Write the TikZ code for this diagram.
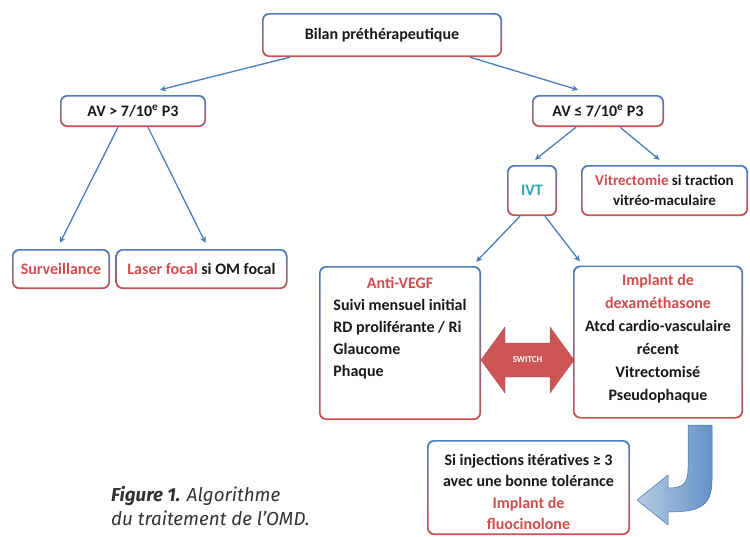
\documentclass[tikz,border=0pt]{standalone}
\usepackage{fontspec}
\setmainfont{Carlito}
\newfontfamily\capfont{Fira Sans}
\usetikzlibrary{arrows.meta,calc}
\definecolor{bblue}{RGB}{74,126,187}
\definecolor{bred}{RGB}{198,82,80}
\definecolor{tred}{RGB}{205,78,78}
\definecolor{tteal}{RGB}{50,160,185}
\definecolor{lblue}{RGB}{74,126,187}
\definecolor{swred}{RGB}{205,85,85}
\tikzset{
  gbox/.style={rounded corners=7pt, top color=bblue, bottom color=bred, inner sep=0pt,
    font=\fontsize{16pt}{19pt}\selectfont\bfseries, text=black!90, align=center,
    path picture={\fill[white, rounded corners=6pt]
      ([shift={(1.7pt,-1.7pt)}]path picture bounding box.north west) rectangle
      ([shift={(-1.7pt,1.7pt)}]path picture bounding box.south east);}},
  txt/.style={font=\fontsize{16pt}{19pt}\selectfont\bfseries, text=black!90, inner sep=0pt},
  conn/.style={draw=lblue, line width=1.3pt, -{Stealth[length=6pt,width=6pt]}}
}
\begin{document}
\begin{tikzpicture}[x=1pt,y=-1pt]
\useasboundingbox (0,0) rectangle (750,536);
% boxes
\node[gbox, minimum width=240pt, minimum height=44pt] (bilan) at (382,35) {Bilan préthérapeutique};
\node[gbox, minimum width=146pt, minimum height=32pt] (avg) at (133,111) {AV > 7/10\textsuperscript{e} P3};
\node[gbox, minimum width=132pt, minimum height=32pt] (avl) at (598,111) {AV ≤ 7/10\textsuperscript{e} P3};
\node[gbox, minimum width=50pt, minimum height=51pt, text=tteal] (ivt) at (532,190.5) {IVT};
\node[gbox, minimum width=167pt, minimum height=51pt, font=\fontsize{15pt}{19.5pt}\selectfont\bfseries] (vit) at (664.5,190.5) {\textcolor{tred}{Vitrectomie} si traction\\vitréo-maculaire};
\node[gbox, minimum width=98pt, minimum height=40pt, text=tred] (surv) at (61,269) {Surveillance};
\node[gbox, minimum width=172pt, minimum height=40pt] (laser) at (201.5,269) {\textcolor{tred}{Laser focal} si OM focal};
\node[gbox, minimum width=162pt, minimum height=154pt] (anti) at (400,343) {};
\node[gbox, minimum width=170pt, minimum height=153pt] (dexa) at (658,342) {};
\node[gbox, minimum width=203pt, minimum height=95pt] (fluo) at (528.5,487.5) {};
% texts in large boxes
\node[txt, anchor=north, align=left] (antitxt) at ($(anti.north)+(0,9)$)
  {\renewcommand{\arraystretch}{1.0}%
   \begin{tabular}{@{}l@{}}\multicolumn{1}{c}{\textcolor{tred}{Anti-VEGF}}\\[3pt]
   Suivi mensuel initial\\[3pt] RD proliférante / Ri\\[3pt] Glaucome\\[3pt] Phaque\end{tabular}};
\node[txt, anchor=north, align=center, font=\fontsize{16pt}{23pt}\selectfont\bfseries] (dexatxt) at ($(dexa.north)+(0,9)$)
  {\textcolor{tred}{Implant de}\\\textcolor{tred}{dexaméthasone}\\Atcd cardio-vasculaire\\récent\\Vitrectomisé\\Pseudophaque};
\node[txt, anchor=north, align=center, font=\fontsize{16pt}{21.5pt}\selectfont\bfseries] (fluotxt) at ($(fluo.north)+(0,14)$)
  {Si injections itératives ≥ 3\\avec une bonne tolérance\\\textcolor{tred}{Implant de}\\\textcolor{tred}{fluocinolone}};
% connectors
\draw[conn] ($(bilan.south)+(-92,0)$) -- ($(avg.north)+(27,-5)$);
\draw[conn] ($(bilan.south)+(88,0)$) -- ($(avl.north)+(-20,-5)$);
\draw[conn] ($(avg.south)+(-15,0)$) -- ($(surv.north)+(-1,-6)$);
\draw[conn] ($(avg.south)+(15,0)$) -- ($(laser.north)+(4,-6)$);
\draw[conn] ($(avl.south)+(-22,0)$) -- ($(ivt.north)+(3,-5)$);
\draw[conn] ($(avl.south)+(22,0)$) -- ($(vit.north)+(-5,-5)$);
\draw[conn] ($(ivt.south)+(-12,0)$) -- ($(anti.north east)+(-5,-4)$);
\draw[conn] ($(ivt.south)+(13,0)$) -- ($(dexa.north west)+(7,-4)$);
% switch double arrow
\path[fill=swred, draw=swred!85!black, line width=0.4pt, line join=round]
  (481,360) -- (505,327) -- (505,343) -- (550,343) -- (550,327) -- (574,360)
  -- (550,393) -- (550,377) -- (505,377) -- (505,393) -- cycle;
\node[font=\fontsize{9pt}{10pt}\selectfont\bfseries, text=white] (switch) at (527.5,360) {SWITCH};
% curved arrow
\path[left color=bblue!40, right color=bblue!85, draw=bblue!90!black, line width=0.5pt, line join=round]
  (688,425) -- (712,425) -- (712,480) .. controls (712,506) and (700,512) .. (668,512)
  -- (668,525) -- (637,500) -- (668,475) -- (668,488) .. controls (683,488) and (688,484) .. (688,468) -- cycle;
% caption
\node[anchor=north west, align=left, font=\capfont\fontsize{18.8pt}{24pt}\selectfont\itshape, text=black!80, inner sep=0pt] (caption) at (111,486.5)
  {\textbf{Figure 1.} Algorithme\\du traitement de l’OMD.};
\end{tikzpicture}
\end{document}
